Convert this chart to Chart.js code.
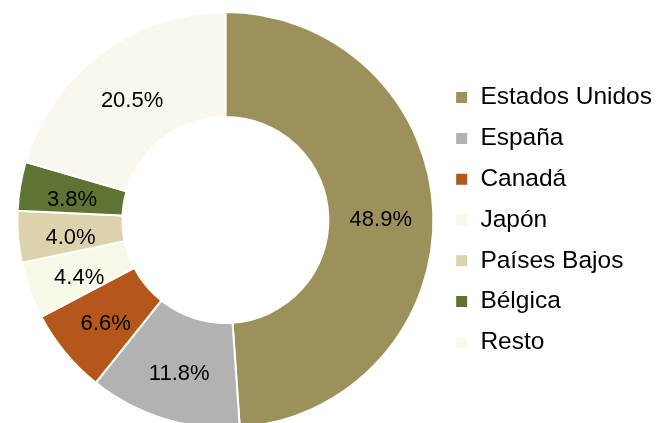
<!DOCTYPE html>
<html><head><meta charset="utf-8">
<script src="https://cdn.jsdelivr.net/npm/chart.js@4/dist/chart.umd.min.js"></script>
<style>html,body{margin:0;padding:0;background:#fff;overflow:hidden}#wrap{width:656px;height:423px;overflow:hidden}</style>
</head><body><div id="wrap"><canvas id="c" width="656" height="436"></canvas></div>
<script>
const categories = ["Estados Unidos","España","Canadá","Japón","Países Bajos","Bélgica","Resto"];
const shares = [48.9, 11.8, 6.6, 4.4, 4.0, 3.8, 20.5];
const labelsText = ["48.9%","11.8%","6.6%","4.4%","4.0%","3.8%","20.5%"];
const colors = ["#9C915B","#B2B2B2","#B5571B","#F7F9E8","#DCD3AE","#5F7333","#FAF7EC"];

const sliceLabels = {
  id:'sliceLabels',
  afterDatasetsDraw(chart){
    const ctx = chart.ctx;
    const meta = chart.getDatasetMeta(0);
    ctx.save();
    ctx.font = '22px "Liberation Sans", Arial, sans-serif';
    ctx.fillStyle = '#000';
    ctx.textAlign = 'center';
    ctx.textBaseline = 'middle';
    meta.data.forEach((arc,i)=>{
      const p = arc.tooltipPosition();
      ctx.fillText(labelsText[i], p.x, p.y + 5);
    });
    ctx.restore();
  }
};

new Chart(document.getElementById('c'), {
  type:'doughnut',
  data:{labels:categories, datasets:[{data:shares, backgroundColor:colors, borderColor:'#fff', borderWidth:2}]},
  options:{
    responsive:false, animation:false, cutout:'49.5%',
    layout:{padding:{top:11,bottom:7,left:12,right:-6}},
    plugins:{
      tooltip:{enabled:false},
      legend:{position:'right', align:'center',
        labels:{boxWidth:13, boxHeight:13, padding:16.3, color:'#000',
          font:{family:'"Liberation Sans", Arial, sans-serif', size:24.5}}}
    }
  },
  plugins:[sliceLabels]
});
</script></body></html>
